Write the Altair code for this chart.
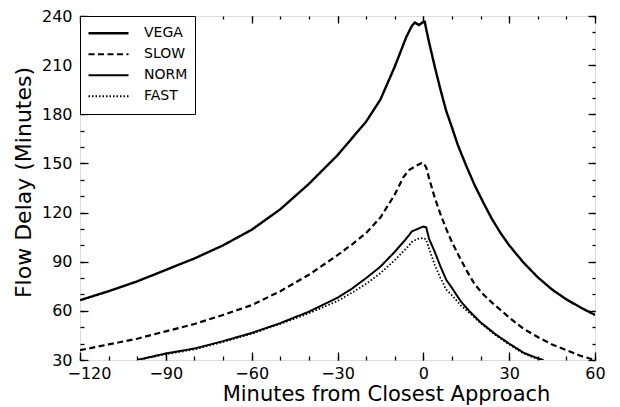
import altair as alt
import pandas as pd

# ---- data ----
series_names = ["VEGA", "SLOW", "NORM", "FAST"]

vega_min = [-120, -110, -100, -90, -80, -70, -60, -50, -40, -30, -20, -15, -10, -6, -4, -3, -1.5, 0, 0.5, 1,
            2, 4, 6, 8, 10, 12, 15, 18, 21, 24, 27, 30, 35, 40, 45, 50, 55, 60]
vega_val = [66.5, 72, 78, 85, 92, 100, 109.5, 122, 137.5, 155, 175.5, 189, 209, 227, 234, 236, 234.5, 236.5, 236.5, 232,
            224, 209, 195, 182, 172, 161.5, 148.5, 136.5, 126, 116, 107.5, 100, 89.5, 80.5, 73, 67, 62, 57.5]

slow_min = [-120, -110, -100, -90, -80, -70, -60, -50, -40, -30, -25, -20, -15, -10, -7, -5, -3, -1, 0,
            1, 2, 4, 6, 8, 10, 12, 15, 18, 21, 24, 27, 30, 35, 40, 45, 50, 55, 60]
slow_val = [36, 39.5, 43, 47.5, 52, 57.5, 63.5, 72, 82, 94, 100.5, 107.5, 117, 131, 141.5, 146, 148, 150, 150.5,
            147.5, 141, 129, 119, 110, 102, 95, 85, 76, 70, 65, 60.5, 56, 49, 44, 39.5, 36, 32.5, 30]

norm_min = [-100, -95, -90, -80, -70, -60, -50, -40, -30, -25, -20, -15, -10, -6, -4, -2, 0, 1,
            2, 4, 6, 8, 10, 13, 16, 20, 25, 30, 35, 40, 42]
norm_val = [30, 32, 34, 37, 41.5, 46.5, 52.5, 59.5, 68, 73.5, 80, 87, 96, 104, 108.5, 110, 111.5, 111,
            104, 96, 87, 79, 74, 66, 60, 53, 46, 40, 34.5, 31, 30]

fast_min = [-100, -90, -80, -70, -60, -50, -40, -30, -25, -20, -15, -10, -6, -4, -2, 0, 1,
            2, 4, 6, 8, 10, 13, 16, 20, 25, 30, 35, 40]
fast_val = [30, 33.5, 36.5, 41, 46, 52, 58.5, 66, 71, 76.5, 83, 91, 98, 102, 104, 104.5, 103.5,
            98, 88, 80, 73, 69.5, 63.5, 59, 52.5, 45.5, 39.5, 34, 30.5]

line_widths = [2.4, 1.8, 1.0, 1.3]
dash_styles = [[1, 0], [6, 3.5], [1, 0], [1.5, 2]]

x_major = [-120, -90, -60, -30, 0, 30, 60]
x_minor = list(range(-120, 61, 10))
y_major = [30, 60, 90, 120, 150, 180, 210, 240]
y_minor = list(range(30, 241, 10))

rows = []
for name, xs_, ys_ in zip(series_names, [vega_min, slow_min, norm_min, fast_min],
                          [vega_val, slow_val, norm_val, fast_val]):
    for a, b in zip(xs_, ys_):
        rows.append({"series": name, "minutes": a, "delay": b})
df = pd.DataFrame(rows)

FONT = "DejaVu Sans"
xs = alt.Scale(domain=[-120, 60], nice=False, zero=False)
ys = alt.Scale(domain=[30, 240], nice=False, zero=False)

base = alt.Chart(df)

legend = alt.Legend(
    title=None, orient="top-left", offset=0, strokeColor="black", fillColor="white",
    padding=7, symbolType="stroke", symbolSize=1600, symbolStrokeColor="black",
    labelFont=FONT, labelFontSize=14, labelColor="black", labelOffset=14,
    clipHeight=20.5, rowPadding=0,
)

lines = base.mark_line(color="black", clip=True).encode(
    x=alt.X("minutes:Q", scale=xs, axis=alt.Axis(
        orient="bottom", values=x_major, ticks=False, domain=False, grid=False,
        labelFont=FONT, labelFontSize=16, labelColor="black", labelPadding=5, labelFlush=False,
        labelOffset={"condition": {"test": "datum.value == -120", "value": 9}, "value": 0},
        title="Minutes from Closest Approach", titleFont=FONT, titleFontSize=21,
        titleFontWeight="normal", titleColor="black", titlePadding=2, titleX=306)),
    y=alt.Y("delay:Q", scale=ys, axis=alt.Axis(
        orient="left", values=y_major, ticks=False, domain=False, grid=False,
        labelFont=FONT, labelFontSize=16, labelColor="black", labelPadding=8, labelFlush=False,
        title="Flow Delay (Minutes)", titleFont=FONT, titleFontSize=22,
        titleFontWeight="normal", titleColor="black", titlePadding=6, titleY=166)),
    strokeDash=alt.StrokeDash("series:N", scale=alt.Scale(
        domain=series_names, range=dash_styles), legend=legend),
    strokeWidth=alt.StrokeWidth("series:N", scale=alt.Scale(
        domain=series_names, range=line_widths), legend=legend),
    detail="series:N",
)


def tick_layer(x_orient, y_orient, xv, yv, size):
    common = dict(ticks=True, tickSize=size, offset=-size, labels=False, domain=False,
                  grid=False, title=None, tickColor="black", tickWidth=1.3)
    return base.mark_line(opacity=0).encode(
        x=alt.X("minutes:Q", scale=xs, axis=alt.Axis(orient=x_orient, values=xv, **common)),
        y=alt.Y("delay:Q", scale=ys, axis=alt.Axis(orient=y_orient, values=yv, **common)),
        detail="series:N",
    )


t1 = tick_layer("bottom", "left", x_major, y_major, 8)
t2 = tick_layer("bottom", "left", x_minor, y_minor, 4)
t3 = tick_layer("top", "right", x_major, y_major, 7)
t4 = tick_layer("top", "right", x_minor, y_minor, 3)

chart = alt.layer(lines, t1, t2, t3, t4).resolve_axis(
    x="independent", y="independent"
).properties(
    width=515, height=344,
    autosize=alt.AutoSizeParams(type="none"),
    padding={"left": 72, "top": 8, "right": 17, "bottom": 47},
).configure_view(stroke="black", strokeWidth=1.5).configure(background="white")

chart.save("out.html", embed_options={"renderer": "svg", "actions": False})
